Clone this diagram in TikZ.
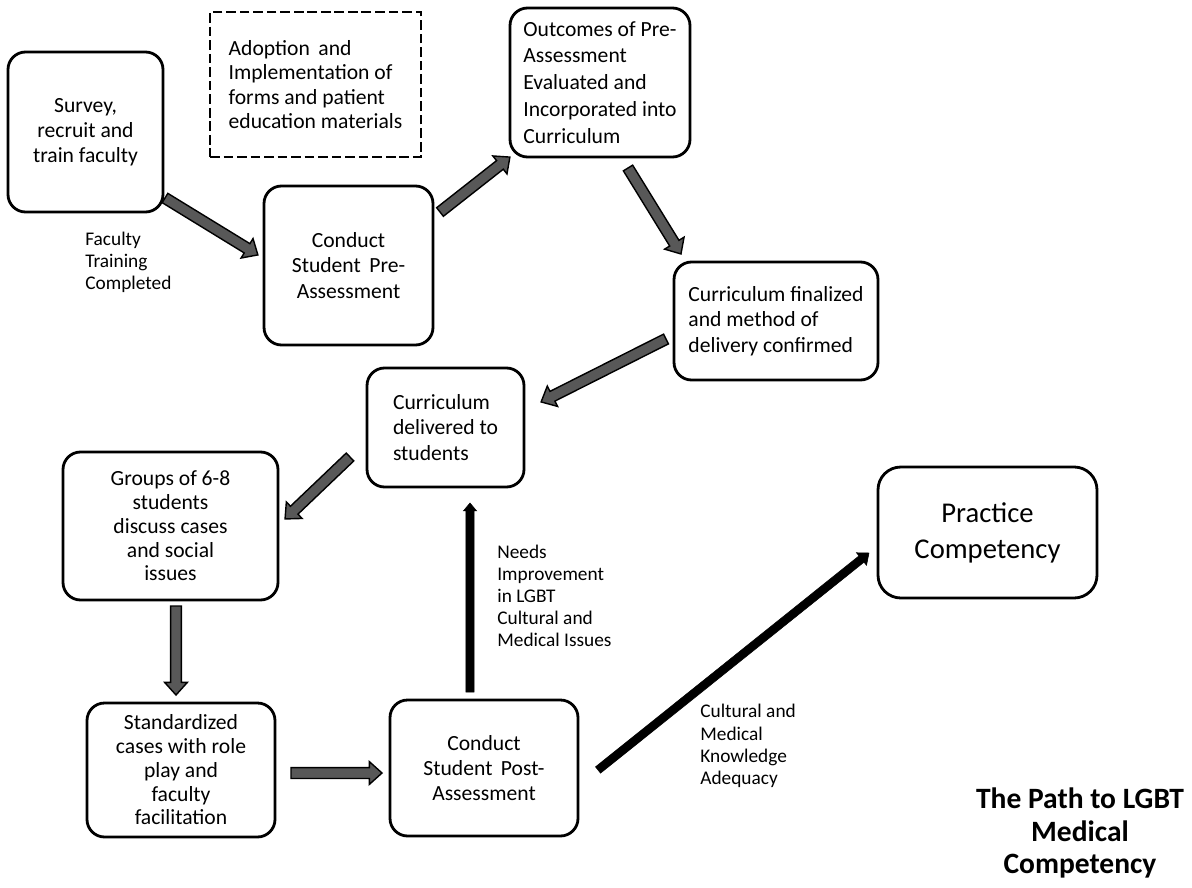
\documentclass[tikz,border=0pt]{standalone}
\usepackage{fontspec}
\setmainfont{Carlito}
\usetikzlibrary{shapes.arrows,calc}
\definecolor{arrowgray}{RGB}{88,88,88}
\newcommand{\ArrowFromTo}[3][blockarr]{\path let \p1=($(#3)-(#2)$), \n1={veclen(\x1,\y1)} in (#2) -- (#3) node[#1, pos=0, anchor=tail, sloped, allow upside down, minimum height=\n1]{};}
\begin{document}
\begin{tikzpicture}[x=0.02cm,y=-0.02cm,
  box/.style={draw, line width=1.6pt, rounded corners=10pt, inner sep=2pt, font=\fontsize{12.3}{14.2}\selectfont},
  dashbox/.style={draw, line width=1.6pt, dash pattern=on 5.5pt off 2.2pt, inner sep=2pt, font=\fontsize{12.3}{13.8}\selectfont},
  sz/.style 2 args={minimum width=#1*0.02cm, minimum height=#2*0.02cm},
  lbl/.style={align=left, font=\fontsize{11}{12.6}\selectfont, inner sep=0pt},
  blockarr/.style={single arrow, draw=black, fill=arrowgray, line width=0.8pt, inner sep=0pt, outer sep=0pt,
    text height=5.4pt, text depth=0pt, text width=0pt, single arrow head extend=3.4pt, single arrow tip angle=84},
  thinarr/.style={single arrow, draw=black, fill=black, line width=0.3pt, inner sep=0pt, outer sep=0pt,
    text height=4.3pt, text depth=0pt, text width=0pt, single arrow head extend=#1, single arrow tip angle=80},
  thinarr/.default=1.7pt]
\useasboundingbox (0,0) rectangle (1192,888);

% boxes
\node[box, sz={155}{160}, align=center] (survey) at (85.5,132) {Survey,\\recruit and\\train faculty};
\node[dashbox, sz={211}{145}, align=left] (adopt) at (315.5,84.5) {Adoption\, and\\Implementation of\\forms and patient\\education materials};
\node[box, sz={169}{159}, align=center, font=\fontsize{12.3}{14.5}\selectfont] (pre) at (348.5,265.5) {Conduct\\Student\, Pre-\\Assessment};
\node[box, sz={180}{149}, align=left, font=\fontsize{12.3}{15.3}\selectfont] (outcomes) at (600,82.5) {Outcomes of Pre-\\Assessment\\Evaluated and\\Incorporated into\\Curriculum};
\node[box, sz={204}{118}, align=left, font=\fontsize{12.3}{14.5}\selectfont] (final) at (776,321) {Curriculum finalized\\and method of\\delivery confirmed};
\node[box, sz={157}{119}, align=left, font=\fontsize{12.3}{14.7}\selectfont] (deliv) at (445.5,427.5) {Curriculum\\delivered to\\students};
\node[box, sz={215}{148}, align=center, font=\fontsize{12.3}{13.5}\selectfont] (groups) at (170.5,526) {Groups of 6-8\\students\\discuss cases\\and social\\issues};
\node[box, sz={188}{134}, align=center, font=\fontsize{12.3}{13.5}\selectfont] (stand) at (181,770) {Standardized\\cases with role\\play and\\faculty\\facilitation};
\node[box, sz={188}{136}, align=center, font=\fontsize{12.3}{14.2}\selectfont] (post) at (484,768) {Conduct\\Student\, Post-\\Assessment};
\node[box, sz={219}{131}, align=center, rounded corners=13pt, font=\fontsize{16.3}{20.5}\selectfont] (practice) at (987.5,532.5) {Practice\\Competency};
\node[align=center, inner sep=0pt, font=\bfseries\fontsize{16.8}{18.7}\selectfont] (title) at (1080,833) {The Path to LGBT\\Medical\\Competency};

% labels
\node[lbl, anchor=west] (lfac) at (85,262) {Faculty\\Training\\Completed};
\node[lbl, anchor=west] (lneed) at (497,596) {Needs\\Improvement\\in LGBT\\Cultural and\\Medical Issues};
\node[lbl, anchor=west] (ladeq) at (700,746) {Cultural and\\Medical\\Knowledge\\Adequacy};

% arrow end points
\coordinate (a1s) at (165,198); \coordinate (a1e) at (258,255);
\coordinate (a2s) at (440,212); \coordinate (a2e) at (510,157);
\coordinate (a3s) at (628,168); \coordinate (a3e) at (681,254);
\coordinate (a4s) at (666,339); \coordinate (a4e) at (541,402);
\coordinate (a5s) at (350,457); \coordinate (a5e) at (285,519);
\coordinate (a6s) at (176,606); \coordinate (a6e) at (176,695);
\coordinate (a7s) at (291,773); \coordinate (a7e) at (382,773);
\coordinate (a8s) at (470,692); \coordinate (a8e) at (470,503);
\coordinate (a9s) at (598,770); \coordinate (a9e) at (869,553);

% arrows
\ArrowFromTo{a1s}{a1e}
\ArrowFromTo{a2s}{a2e}
\ArrowFromTo{a3s}{a3e}
\ArrowFromTo{a4s}{a4e}
\ArrowFromTo{a5s}{a5e}
\ArrowFromTo{a6s}{a6e}
\ArrowFromTo{a7s}{a7e}
\ArrowFromTo[thinarr=1.5pt]{a8s}{a8e}
\ArrowFromTo[thinarr=2.3pt]{a9s}{a9e}
\end{tikzpicture}
\end{document}
